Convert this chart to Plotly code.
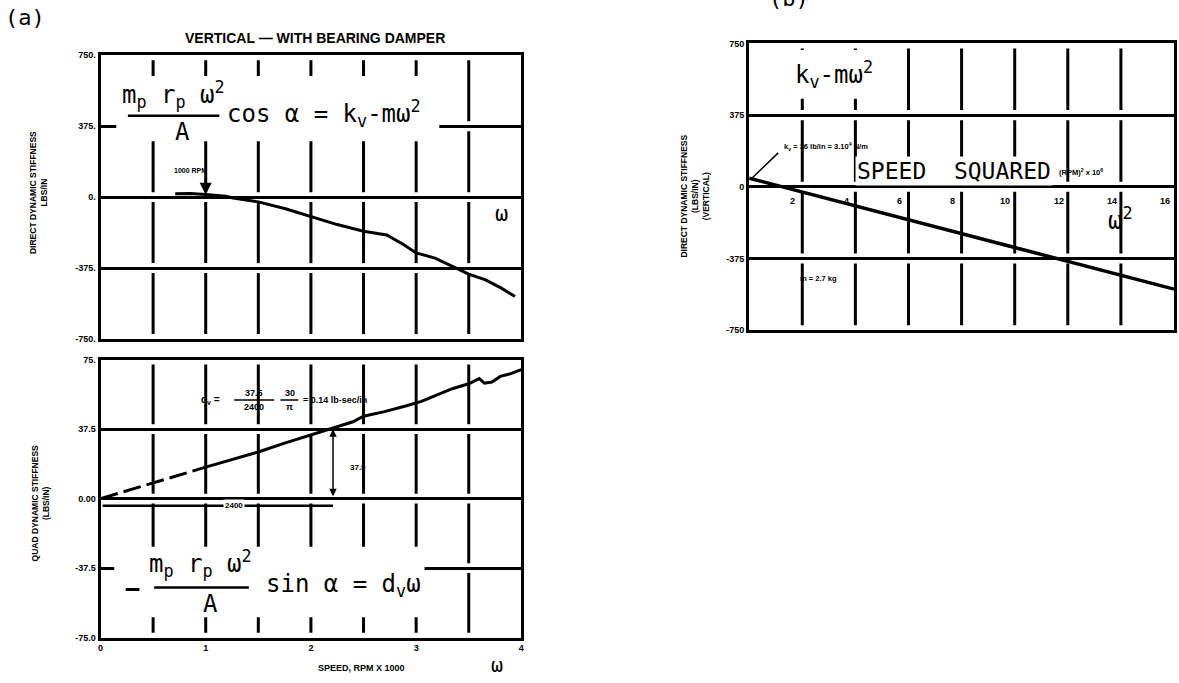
import plotly.graph_objects as go

# ---------------- data ----------------
# (a) top: direct dynamic stiffness vs speed (rpm x 1000)
speed_direct = [0.71, 0.85, 1.0, 1.19, 1.26, 1.5, 1.75, 2.0, 2.25, 2.5, 2.72, 2.88, 3.0, 3.18, 3.3, 3.38, 3.5, 3.66, 3.81, 3.94]
direct_stiff = [18, 19, 14, 5, -4, -25, -60, -101, -145, -180, -200, -250, -295, -322, -352, -375, -407, -437, -481, -525]

# (a) bottom: quadrature dynamic stiffness (dashed start, solid measured part)
speed_quad_dash = [0.0, 0.5, 1.0]
quad_dash = [0.0, 8.5, 17.0]
speed_quad = [1.0, 1.25, 1.5, 1.75, 2.0, 2.2, 2.4, 2.5, 2.7, 2.9, 3.05, 3.2, 3.35, 3.5, 3.6, 3.65, 3.72, 3.8, 3.9, 4.0]
quad_stiff = [17.0, 21.0, 25.2, 30.0, 34.5, 38.0, 41.5, 44.5, 47.0, 50.0, 52.5, 56.0, 59.5, 62.0, 64.8, 62.3, 63.0, 66.0, 67.5, 69.7]

# (b): direct dynamic stiffness vs speed squared
speed_sq = [0, 16]
direct_b = [45, -535]

# tick labels / grid values
ytop_vals = [-750, -375, 0, 375, 750]
ytop_text = ["-750.", "-375.", "0.", "375.", "750."]
ybot_vals = [-75, -37.5, 0, 37.5, 75]
ybot_text = ["-75.0", "-37.5", "0.00", "37.5", "75."]
xbot_vals = [0, 1, 2, 3, 4]
xbot_text = ["0", "1", "2", "3", "4"]
yb_text = ["-750", "-375", "0", "375", "750"]
xa_grid = [0.5, 1.0, 1.5, 2.0, 2.5, 3.0, 3.5]
xb_grid = [2, 4, 6, 8, 10, 12, 14]
xb_labels = [2, 4, 6, 8, 10, 12, 14, 16]

# ---------------- figure ----------------
W, H = 1179, 683
def px(xp):
    return xp / W
def py(yp):
    return 1 - yp / H

fig = go.Figure()
line_style = dict(color="black", width=3)
fig.add_trace(go.Scatter(x=speed_direct, y=direct_stiff, mode="lines", line=line_style,
                         xaxis="x", yaxis="y", showlegend=False))
fig.add_trace(go.Scatter(x=speed_quad_dash, y=quad_dash, mode="lines",
                         line=dict(color="black", width=3, dash="18px,6px"),
                         xaxis="x2", yaxis="y2", showlegend=False))
fig.add_trace(go.Scatter(x=speed_quad, y=quad_stiff, mode="lines", line=line_style,
                         xaxis="x2", yaxis="y2", showlegend=False))
fig.add_trace(go.Scatter(x=speed_sq, y=direct_b, mode="lines", line=dict(color="black", width=3.5),
                         xaxis="x3", yaxis="y3", showlegend=False))

tickfont = dict(family="Liberation Sans, Arial", size=9, color="black", weight="bold")
common_x = dict(showline=True, mirror=True, linecolor="black", linewidth=3, showgrid=False,
                zeroline=False, ticks="")
common_y = dict(showline=True, mirror=True, linecolor="black", linewidth=3, showgrid=True,
                gridcolor="black", gridwidth=3, zeroline=False, ticks="", tickfont=tickfont)

xa_dom = [px(98), px(521)]
fig.update_layout(
    width=W, height=H, autosize=False,
    margin=dict(l=0, r=0, t=0, b=0),
    paper_bgcolor="white", plot_bgcolor="white",
    xaxis=dict(domain=xa_dom, range=[0, 4], anchor="y", showticklabels=False, **common_x),
    yaxis=dict(domain=[py(339), py(51)], range=[-750, 750], anchor="x",
               tickvals=ytop_vals, ticktext=ytop_text, **common_y),
    xaxis2=dict(domain=xa_dom, range=[0, 4], anchor="y2", tickvals=xbot_vals, ticktext=xbot_text,
                tickfont=tickfont, **common_x),
    yaxis2=dict(domain=[py(642), py(360)], range=[-75, 75], anchor="x2",
                tickvals=ybot_vals, ticktext=ybot_text, **common_y),
    xaxis3=dict(domain=[px(750), px(1177)], range=[0, 16], anchor="y3", showticklabels=False, **common_x),
    yaxis3=dict(domain=[py(330), py(39)], range=[-750, 750], anchor="x3",
                tickvals=ytop_vals, ticktext=yb_text, **common_y),
)

shapes = []
# broken vertical grid segments
def vsegs(xs, bands, xref, yref, gapfrac=0.07):
    out = []
    for xv in xs:
        for lo, hi in zip(bands[:-1], bands[1:]):
            g = (hi - lo) * gapfrac
            out.append(dict(type="line", xref=xref, yref=yref, x0=xv, x1=xv, y0=lo + g, y1=hi - g,
                            line=dict(color="black", width=3), layer="below"))
    return out

shapes += vsegs(xa_grid, ytop_vals, "x", "y")
shapes += vsegs(xa_grid, ybot_vals, "x2", "y2")
shapes += vsegs(xb_grid, ytop_vals, "x3", "y3")

# white masks behind large equations
def mask(xref, yref, x0, x1, y0, y1):
    return dict(type="rect", xref=xref, yref=yref, x0=x0, x1=x1, y0=y0, y1=y1,
                fillcolor="white", line=dict(width=0), layer="above")

shapes.append(mask("x", "y", 0.15, 3.22, 295, 640))
shapes.append(mask("x2", "y2", 0.13, 3.08, -64, -26))
shapes.append(mask("x3", "y3", 1.45, 4.95, 460, 715))

# fraction bars
shapes.append(dict(type="line", xref="x", yref="y", x0=0.26, x1=1.13, y0=430, y1=430,
                   line=dict(color="black", width=2.5), layer="above"))
shapes.append(dict(type="line", xref="x2", yref="y2", x0=0.51, x1=1.41, y0=-48, y1=-48,
                   line=dict(color="black", width=2.5), layer="above"))
# small fraction bars in d_v formula
shapes.append(dict(type="line", xref="x2", yref="y2", x0=1.27, x1=1.65, y0=53.3, y1=53.3,
                   line=dict(color="black", width=1.5), layer="above"))
shapes.append(dict(type="line", xref="x2", yref="y2", x0=1.71, x1=1.88, y0=53.3, y1=53.3,
                   line=dict(color="black", width=1.5), layer="above"))
# 2400 dimension line
shapes.append(dict(type="line", xref="x2", yref="y2", x0=0.02, x1=2.21, y0=-3.8, y1=-3.8,
                   line=dict(color="black", width=2.5), layer="above"))
# leading minus sign of the quadrature equation
shapes.append(dict(type="line", xref="x2", yref="y2", x0=0.24, x1=0.37, y0=-49, y1=-49,
                   line=dict(color="black", width=3), layer="above"))
fig.update_layout(shapes=shapes)

mono = "DejaVu Sans Mono, Liberation Mono, monospace"
sans = "Liberation Sans, Arial, sans-serif"
ann = []
def T(text, x, y, xref, yref, size, family=mono, bold=False, xanchor="center", yanchor="middle",
      angle=0, bg=None, align="center"):
    d = dict(text=text, x=x, y=y, xref=xref, yref=yref, showarrow=False, xanchor=xanchor,
             yanchor=yanchor, textangle=angle, align=align,
             font=dict(family=family, size=size, color="black", weight="bold" if bold else "normal"))
    if bg:
        d["bgcolor"] = bg
    return d

# panel labels and title
ann.append(T("(a)", px(22), py(13), "paper", "paper", 22))
ann.append(T("(b)", px(790), py(-7), "paper", "paper", 22))
ann.append(T("VERTICAL — WITH BEARING DAMPER", px(314), py(33), "paper", "paper", 14, family=sans, bold=True))

# axis titles
ann.append(T("DIRECT DYNAMIC STIFFNESS<br>LBS/IN", px(35), py(190), "paper", "paper", 8.5,
             family=sans, bold=True, angle=-90))
ann.append(T("QUAD DYNAMIC STIFFNESS<br>(LBS/IN)", px(38), py(505), "paper", "paper", 8.5,
             family=sans, bold=True, angle=-90))
ann.append(T("DIRECT DYNAMIC STIFFNESS<br>(LBS/IN)<br>(VERTICAL)", px(696), py(194), "paper", "paper", 8.5,
             family=sans, bold=True, angle=-90))
ann.append(T("SPEED, RPM X 1000", px(360), py(673), "paper", "paper", 9, family=sans, bold=True))
ann.append(T("ω", px(497), py(670), "paper", "paper", 20))

# top (a) equation
ann.append(T("m<sub>p</sub> r<sub>p</sub> ω<sup>2</sup>", 0.69, 545, "x", "y", 24))
ann.append(T("A", 0.78, 345, "x", "y", 24))
ann.append(T("cos α = k<sub>v</sub>-mω<sup>2</sup>", 1.18, 440, "x", "y", 24, xanchor="left"))
ann.append(T("ω", 3.81, -85, "x", "y", 22))
ann.append(T("1000 RPM", 0.86, 140, "x", "y", 7, family=sans, bold=True))
ann.append(dict(text="", x=1.0, y=12, xref="x", yref="y", ax=1.0, ay=105, axref="x", ayref="y",
                showarrow=True, arrowhead=2, arrowsize=1.2, arrowwidth=2, arrowcolor="black"))

# bottom (a) equation
ann.append(T("m<sub>p</sub> r<sub>p</sub> ω<sup>2</sup>", 0.95, -35, "x2", "y2", 24))
ann.append(T("A", 1.05, -57, "x2", "y2", 24))
ann.append(T("sin α = d<sub>v</sub>ω", 1.55, -47, "x2", "y2", 24, xanchor="left"))

# d_v formula
ann.append(T("d<sub>v</sub> =", 1.05, 53.3, "x2", "y2", 10, family=sans, bold=True))
ann.append(T("37.5", 1.46, 57.0, "x2", "y2", 9, family=sans, bold=True))
ann.append(T("2400", 1.46, 49.4, "x2", "y2", 9, family=sans, bold=True))
ann.append(T("30", 1.8, 57.0, "x2", "y2", 9, family=sans, bold=True))
ann.append(T("π", 1.8, 49.4, "x2", "y2", 9, family=sans, bold=True))
ann.append(T("= 0.14 lb-sec/in", 1.91, 53.3, "x2", "y2", 9, family=sans, bold=True, xanchor="left"))

# dimension arrows
ann.append(dict(text="", x=2.21, y=37.5, xref="x2", yref="y2", ax=2.21, ay=0.5, axref="x2", ayref="y2",
                showarrow=True, arrowhead=2, arrowside="end+start", arrowsize=1, arrowwidth=1.5,
                arrowcolor="black"))
ann.append(T("37.5", 2.45, 17, "x2", "y2", 8, family=sans, bold=True))
ann.append(T("2400", 1.27, -3.8, "x2", "y2", 8, family=sans, bold=True, bg="white"))

# panel (b)
ann.append(T("k<sub>v</sub>-mω<sup>2</sup>", 3.2, 585, "x3", "y3", 24))
ann.append(T("k<sub>v</sub> = 36 lb/in = 3.10<sup>4</sup> N/m", 1.25, 209, "x3", "y3", 7.5,
             family=sans, bold=True, xanchor="left"))
ann.append(dict(text="", x=0.1, y=45, xref="x3", yref="y3", ax=1.15, ay=185, axref="x3", ayref="y3",
                showarrow=True, arrowhead=0, arrowwidth=1.5, arrowcolor="black"))
ann.append(T("SPEED  SQUARED", 7.7, 85, "x3", "y3", 23, bg="white"))
ann.append(T("(RPM)<sup>2</sup> x 10<sup>6</sup>", 11.6, 80, "x3", "y3", 7.5, family=sans, bold=True,
             xanchor="left"))
ann.append(T("ω<sup>2</sup>", 14.0, -167, "x3", "y3", 24))
ann.append(T("m = 2.7 kg", 2.6, -480, "x3", "y3", 7.5, family=sans, bold=True))
for v in xb_labels:
    ann.append(T(str(v), v - 0.35, -75, "x3", "y3", 9, family=sans, bold=True))

fig.update_layout(annotations=ann)
fig.write_html("out.html", config={"displayModeBar": False},
               post_script="document.body.style.margin='0';document.body.style.padding='0';"
                           "document.body.style.overflow='hidden';")
